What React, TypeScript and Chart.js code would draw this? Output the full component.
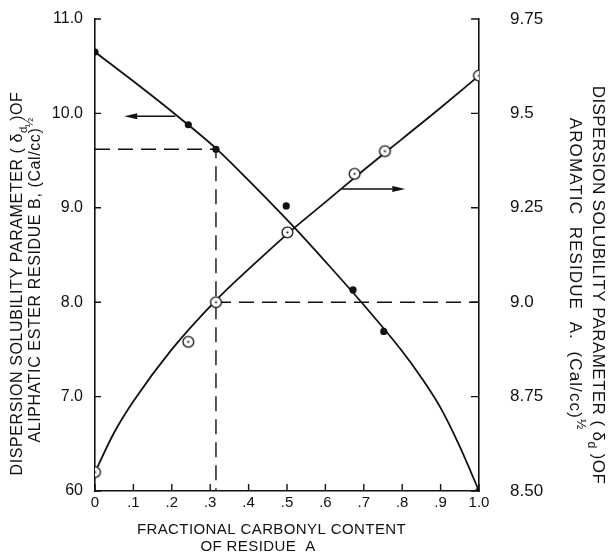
import React, { useEffect, useRef } from 'react';
import { Chart, registerables } from 'chart.js';

Chart.register(...registerables);

// Axis tick labels
const xTickLabels = ['0', '.1', '.2', '.3', '.4', '.5', '.6', '.7', '.8', '.9', '1.0'];
const leftTickLabels = ['60', '7.0', '8.0', '9.0', '10.0', '11.0'];
const rightTickLabels = ['8.50', '8.75', '9.0', '9.25', '9.5', '9.75'];

// Measured points: aliphatic ester residue B (left axis, filled dots)
const carbonylB = [0, 0.243, 0.315, 0.498, 0.672, 0.752, 1.0];
const deltaB = [10.65, 9.88, 9.62, 9.02, 8.13, 7.69, 6.0];

// Measured points: aromatic residue A (right axis, open circles)
const carbonylA = [0, 0.243, 0.315, 0.501, 0.676, 0.755, 1.0];
const deltaA = [8.55, 8.895, 9.0, 9.185, 9.34, 9.4, 9.6];

// Smooth curve drawn through the residue B points (left axis)
const curveBx = [0, 0.1, 0.2, 0.315, 0.4, 0.517, 0.6, 0.7, 0.8, 0.85, 0.9, 0.95, 1.0];
const curveBy = [10.65, 10.34, 10.02, 9.63, 9.29, 8.8, 8.43, 7.97, 7.48, 7.2, 6.88, 6.47, 6.0];

// Smooth curve drawn through the residue A points (right axis)
const curveAx = [0, 0.05, 0.1, 0.2, 0.315, 0.4, 0.517, 0.6, 0.7, 0.8, 0.9, 1.0];
const curveAy = [8.55, 8.655, 8.7375, 8.875, 9.005, 9.0875, 9.195, 9.265, 9.35, 9.4325, 9.515, 9.6];

// Dashed read-off lines
const guideBx = [0, 0.315, 0.315];
const guideBy = [9.62, 9.62, 6.0];
const guideAx = [0.315, 1.0];
const guideAy = [9.0, 9.0];

// Arrows pointing each curve to its axis (start -> head)
const arrowBx = [0.209, 0.076];
const arrowBy = [9.97, 9.97];
const arrowAx = [0.643, 0.808];
const arrowAy = [9.3, 9.3];

const INK = '#111';
const FAMILY = '"Liberation Sans", Arial, Helvetica, sans-serif';

type Seg = { text: string; mode?: 'sub' | 'sup' };

const leftTitle1: Seg[] = [
  { text: 'DISPERSION SOLUBILITY PARAMETER ( δ' },
  { text: 'd', mode: 'sub' },
  { text: ' )OF' },
];
const leftTitle2: Seg[] = [
  { text: 'ALIPHATIC ESTER RESIDUE B, (Cal/cc)' },
  { text: '½', mode: 'sup' },
];
const rightTitle1: Seg[] = [
  { text: 'DISPERSION SOLUBILITY PARAMETER ( δ' },
  { text: 'd', mode: 'sub' },
  { text: ' )OF' },
];
const rightTitle2: Seg[] = [
  { text: 'AROMATIC  RESIDUE  A.  (Cal/cc)' },
  { text: '½', mode: 'sup' },
];
const xTitle1: Seg[] = [{ text: 'FRACTIONAL CARBONYL CONTENT' }];
const xTitle2: Seg[] = [{ text: 'OF RESIDUE  A' }];

const pts = (xs: number[], ys: number[]) => xs.map((x, i) => ({ x, y: ys[i] }));

function drawRich(
  ctx: CanvasRenderingContext2D,
  segs: Seg[],
  cx: number,
  cy: number,
  rot: number,
  size: number,
  spacing: number
) {
  ctx.save();
  ctx.translate(cx, cy);
  ctx.rotate(rot);
  ctx.fillStyle = INK;
  ctx.textAlign = 'left';
  ctx.textBaseline = 'alphabetic';
  (ctx as any).letterSpacing = spacing + 'px';
  const parts = segs.map((s) => {
    const fs = s.mode ? size * 0.72 : size;
    ctx.font = `${fs}px ${FAMILY}`;
    return { ...s, fs, w: ctx.measureText(s.text).width };
  });
  const total = parts.reduce((a, p) => a + p.w, 0);
  let x = -total / 2;
  const base = size * 0.36;
  parts.forEach((p) => {
    ctx.font = `${p.fs}px ${FAMILY}`;
    const dy = p.mode === 'sub' ? size * 0.28 : p.mode === 'sup' ? -size * 0.42 : 0;
    ctx.fillText(p.text, x, base + dy);
    x += p.w;
  });
  ctx.restore();
}

function makeRing(): HTMLCanvasElement {
  const c = document.createElement('canvas');
  c.width = 15;
  c.height = 15;
  const g = c.getContext('2d')!;
  g.beginPath();
  g.arc(7.5, 7.5, 5.4, 0, Math.PI * 2);
  g.fillStyle = '#fff';
  g.fill();
  g.lineWidth = 1.3;
  g.strokeStyle = INK;
  g.stroke();
  g.beginPath();
  g.arc(7.5, 7.5, 1.1, 0, Math.PI * 2);
  g.fillStyle = INK;
  g.fill();
  return c;
}

const decorations = {
  id: 'decorations',
  afterDraw(chart: any) {
    const ctx: CanvasRenderingContext2D = chart.ctx;
    const { left, right, bottom } = chart.chartArea;
    const sx = chart.scales.x;
    const sy = chart.scales.y;
    const sy2 = chart.scales.y2;

    // inward tick marks
    ctx.save();
    ctx.strokeStyle = INK;
    ctx.lineWidth = 1.4;
    ctx.beginPath();
    sx.ticks.forEach((t: any) => {
      const px = sx.getPixelForValue(t.value);
      ctx.moveTo(px, bottom);
      ctx.lineTo(px, bottom - 7);
    });
    sy.ticks.forEach((t: any) => {
      const py = sy.getPixelForValue(t.value);
      ctx.moveTo(left, py);
      ctx.lineTo(left + 6, py);
    });
    sy2.ticks.forEach((t: any) => {
      const py = sy2.getPixelForValue(t.value);
      ctx.moveTo(right, py);
      ctx.lineTo(right - 8, py);
    });
    ctx.stroke();

    // arrows
    const arrow = (xs: number[], ys: number[], scaleY: any) => {
      const x0 = sx.getPixelForValue(xs[0]);
      const y0 = scaleY.getPixelForValue(ys[0]);
      const x1 = sx.getPixelForValue(xs[1]);
      const y1 = scaleY.getPixelForValue(ys[1]);
      const dir = Math.sign(x1 - x0);
      const head = 13;
      ctx.lineWidth = 1.5;
      ctx.beginPath();
      ctx.moveTo(x0, y0);
      ctx.lineTo(x1 - dir * head, y1);
      ctx.stroke();
      ctx.beginPath();
      ctx.moveTo(x1, y1);
      ctx.lineTo(x1 - dir * head, y1 - 3);
      ctx.lineTo(x1 - dir * head, y1 + 3);
      ctx.closePath();
      ctx.fillStyle = INK;
      ctx.fill();
    };
    arrow(arrowBx, arrowBy, sy);
    arrow(arrowAx, arrowAy, sy2);
    ctx.restore();

    // axis titles
    drawRich(ctx, leftTitle1, 16.5, 283.5, -Math.PI / 2, 16, 0.6);
    drawRich(ctx, leftTitle2, 34, 280, -Math.PI / 2, 16, 0.6);
    drawRich(ctx, rightTitle1, 599, 285, Math.PI / 2, 17, 0.4);
    drawRich(ctx, rightTitle2, 576, 274, Math.PI / 2, 17, 1.1);
    drawRich(ctx, xTitle1, 271.5, 529, 0, 15, 0.4);
    drawRich(ctx, xTitle2, 258, 545.5, 0, 15, 0.4);
  },
};

export default function App() {
  const canvasRef = useRef<HTMLCanvasElement | null>(null);

  useEffect(() => {
    const canvas = canvasRef.current;
    if (!canvas) return;
    const ring = makeRing();

    const fitY = (w: number) => (s: any) => {
      s.width = w;
      s.paddingTop = 0;
      s.paddingBottom = 0;
    };

    const chart = new Chart(canvas, {
      type: 'scatter',
      data: {
        datasets: [
          {
            label: 'Residue B',
            data: pts(carbonylB, deltaB),
            yAxisID: 'y',
            pointRadius: 3.6,
            pointBackgroundColor: INK,
            pointBorderWidth: 0,
            showLine: false,
            order: 0,
          },
          {
            label: 'Residue A',
            data: pts(carbonylA, deltaA),
            yAxisID: 'y2',
            pointStyle: ring as any,
            pointRadius: 7,
            showLine: false,
            order: 0,
          },
          {
            label: 'Curve B',
            data: pts(curveBx, curveBy),
            yAxisID: 'y',
            showLine: true,
            pointRadius: 0,
            borderColor: INK,
            borderWidth: 1.8,
            cubicInterpolationMode: 'monotone',
            order: 1,
          },
          {
            label: 'Curve A',
            data: pts(curveAx, curveAy),
            yAxisID: 'y2',
            showLine: true,
            pointRadius: 0,
            borderColor: INK,
            borderWidth: 1.8,
            cubicInterpolationMode: 'monotone',
            order: 1,
          },
          {
            label: 'Guide B',
            data: pts(guideBx, guideBy),
            yAxisID: 'y',
            showLine: true,
            pointRadius: 0,
            borderColor: INK,
            borderWidth: 1.4,
            borderDash: [15, 8],
            order: 2,
          },
          {
            label: 'Guide A',
            data: pts(guideAx, guideAy),
            yAxisID: 'y2',
            showLine: true,
            pointRadius: 0,
            borderColor: INK,
            borderWidth: 1.4,
            borderDash: [15, 8],
            order: 2,
          },
        ] as any,
      },
      options: {
        responsive: false,
        animation: false,
        events: [],
        layout: { padding: { top: 19, left: 0, right: 0, bottom: 0 } },
        plugins: {
          legend: { display: false },
          tooltip: { enabled: false },
        },
        scales: {
          x: {
            type: 'linear',
            min: 0,
            max: 1,
            grid: { display: false, drawTicks: false },
            border: { display: true, color: INK, width: 1.6 },
            ticks: {
              stepSize: 0.1,
              autoSkip: false,
              maxRotation: 0,
              padding: 3,
              color: INK,
              font: { family: FAMILY, size: 15 },
              callback: (_v: any, i: number) => xTickLabels[i],
            },
            afterFit: (s: any) => {
              s.height = 65;
              s.paddingLeft = 0;
              s.paddingRight = 0;
            },
          },
          y: {
            type: 'linear',
            position: 'left',
            min: 6,
            max: 11,
            grid: { display: false, drawTicks: false },
            border: { display: true, color: INK, width: 1.6 },
            ticks: {
              stepSize: 1,
              padding: 12,
              color: INK,
              font: { family: FAMILY, size: 16 },
              callback: (_v: any, i: number) => leftTickLabels[i],
            },
            afterFit: fitY(95),
          },
          y2: {
            type: 'linear',
            position: 'right',
            min: 8.5,
            max: 9.75,
            grid: { display: false, drawTicks: false },
            border: { display: true, color: INK, width: 1.6 },
            ticks: {
              stepSize: 0.25,
              padding: 31,
              color: INK,
              font: { family: FAMILY, size: 17 },
              callback: (_v: any, i: number) => rightTickLabels[i],
            },
            afterFit: fitY(137),
          },
        },
      } as any,
      plugins: [decorations],
    });

    return () => chart.destroy();
  }, []);

  return (
    <div style={{ position: 'fixed', left: 0, top: 0, width: 616, height: 556, background: '#fff' }}>
      <canvas ref={canvasRef} width={616} height={556} />
    </div>
  );
}
